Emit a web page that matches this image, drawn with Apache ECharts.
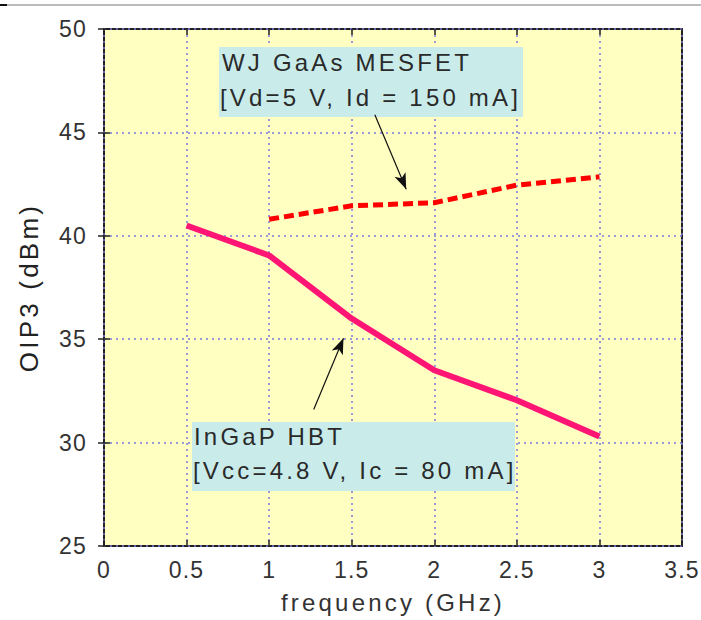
<!DOCTYPE html>
<html>
<head>
<meta charset="utf-8">
<script src="https://cdn.jsdelivr.net/npm/echarts@6/dist/echarts.min.js"></script>
<style>
html, body { margin: 0; padding: 0; background: #fff; }
#chart { width: 701px; height: 620px; }
/* the old plot uses widely spaced lettering */
#chart text { letter-spacing: 3.2px; }
/* tick labels (23px) are spaced less so 3.5 stays on the page */
#chart text[style*="23px"], #chart text[font-size="23"], #chart text[font-size="23px"] { letter-spacing: 1.2px; }
</style>
</head>
<body>
<div id="chart"></div>
<script>
// frequency in GHz
var hbtFreq = [0.5, 1, 1.5, 2, 2.5, 3];
var hbtOip3 = [40.5, 39.05, 36.0, 33.5, 32.05, 30.3];
var mesfetFreq = [1, 1.5, 2, 2.5, 3];
var mesfetOip3 = [40.8, 41.45, 41.6, 42.45, 42.85];
// arrows pointing from the labels to the curves [freq, dBm]
var mesfetArrow = [[1.64, 45.85], [1.83, 42.25]];
var hbtArrow = [[1.27, 31.6], [1.45, 35.05]];

function pairs(xs, ys) {
    return xs.map(function (x, i) { return [x, ys[i]]; });
}

var chart = echarts.init(document.getElementById('chart'), null, {renderer: 'svg'});

var font = 'Arial, "Liberation Sans", sans-serif';
var gridLine = {show: true, lineStyle: {color: '#7b7bdc', type: [2, 4], width: 1.5}};
var innerTick = {show: true, inside: true, length: 6, lineStyle: {color: '#222', width: 1.5}};

chart.setOption({
    animation: false,
    backgroundColor: '#fff',
    grid: {
        left: 104, right: 19, top: 29, bottom: 74,
        show: true,
        backgroundColor: '#ffffc2',
        borderColor: '#222',
        borderWidth: 2,
        outerBoundsMode: 'none'
    },
    xAxis: [
        {
            type: 'value', min: 0, max: 3.5, interval: 0.5,
            name: 'frequency (GHz)', nameLocation: 'middle', nameGap: 44,
            nameTextStyle: {fontFamily: font, fontSize: 24, color: '#333'},
            axisLine: {show: false},
            axisTick: innerTick,
            splitLine: gridLine,
            axisLabel: {fontFamily: font, fontSize: 23, color: '#333', margin: 12}
        },
        {
            type: 'value', min: 0, max: 3.5, interval: 0.5, position: 'top',
            axisLine: {show: false}, axisTick: innerTick,
            axisLabel: {show: false}, splitLine: {show: false}
        }
    ],
    yAxis: [
        {
            type: 'value', min: 25, max: 50, interval: 5,
            name: 'OIP3 (dBm)', nameLocation: 'middle', nameGap: 62,
            nameTextStyle: {fontFamily: font, fontSize: 26, color: '#222'},
            axisLine: {show: false},
            axisTick: innerTick,
            splitLine: gridLine,
            axisLabel: {fontFamily: font, fontSize: 23, color: '#333', margin: 17}
        },
        {
            type: 'value', min: 25, max: 50, interval: 5, position: 'right',
            axisLine: {show: false}, axisTick: innerTick,
            axisLabel: {show: false}, splitLine: {show: false}
        }
    ],
    series: [
        {
            name: 'InGaP HBT',
            type: 'line',
            data: pairs(hbtFreq, hbtOip3),
            symbol: 'none',
            lineStyle: {color: '#ff1675', width: 6},
            markLine: {
                silent: true,
                symbol: ['none', 'arrow'],
                symbolSize: [9, 16],
                label: {show: false},
                lineStyle: {color: '#111', width: 1.2, type: 'solid'},
                data: [[{coord: hbtArrow[0]}, {coord: hbtArrow[1]}]]
            }
        },
        {
            name: 'WJ GaAs MESFET',
            type: 'line',
            data: pairs(mesfetFreq, mesfetOip3),
            symbol: 'none',
            lineStyle: {color: '#ff0000', width: 5, type: [10, 5]},
            markLine: {
                silent: true,
                symbol: ['none', 'arrow'],
                symbolSize: [9, 16],
                label: {show: false},
                lineStyle: {color: '#111', width: 1.2, type: 'solid'},
                data: [[{coord: mesfetArrow[0]}, {coord: mesfetArrow[1]}]]
            }
        }
    ],
    graphic: [
        // thin rule along the top of the page
        {type: 'line', shape: {x1: 0, y1: 5, x2: 701, y2: 5}, style: {stroke: '#bbb', lineWidth: 2}},
        {type: 'line', shape: {x1: 0, y1: 5, x2: 7, y2: 5}, style: {stroke: '#111', lineWidth: 2}, z: 10},
        // label boxes
        {type: 'rect', shape: {x: 219, y: 47, width: 304, height: 70}, style: {fill: '#c9ecea'}, z: 5},
        {type: 'text', x: 222, y: 62, z: 6,
            style: {text: 'WJ GaAs MESFET', font: '24px ' + font, fill: '#2a2a2a', verticalAlign: 'middle'}},
        {type: 'text', x: 220, y: 97, z: 6,
            style: {text: '[Vd=5 V, Id = 150 mA]', font: '24px ' + font, fill: '#2a2a2a', verticalAlign: 'middle'}},
        {type: 'rect', shape: {x: 192, y: 422, width: 323, height: 69}, style: {fill: '#c9ecea'}, z: 5},
        {type: 'text', x: 194, y: 436, z: 6,
            style: {text: 'InGaP HBT', font: '24px ' + font, fill: '#2a2a2a', verticalAlign: 'middle'}},
        {type: 'text', x: 193, y: 470, z: 6,
            style: {text: '[Vcc=4.8 V, Ic = 80 mA]', font: '24px ' + font, fill: '#2a2a2a', verticalAlign: 'middle'}}
    ]
});
</script>
</body>
</html>
